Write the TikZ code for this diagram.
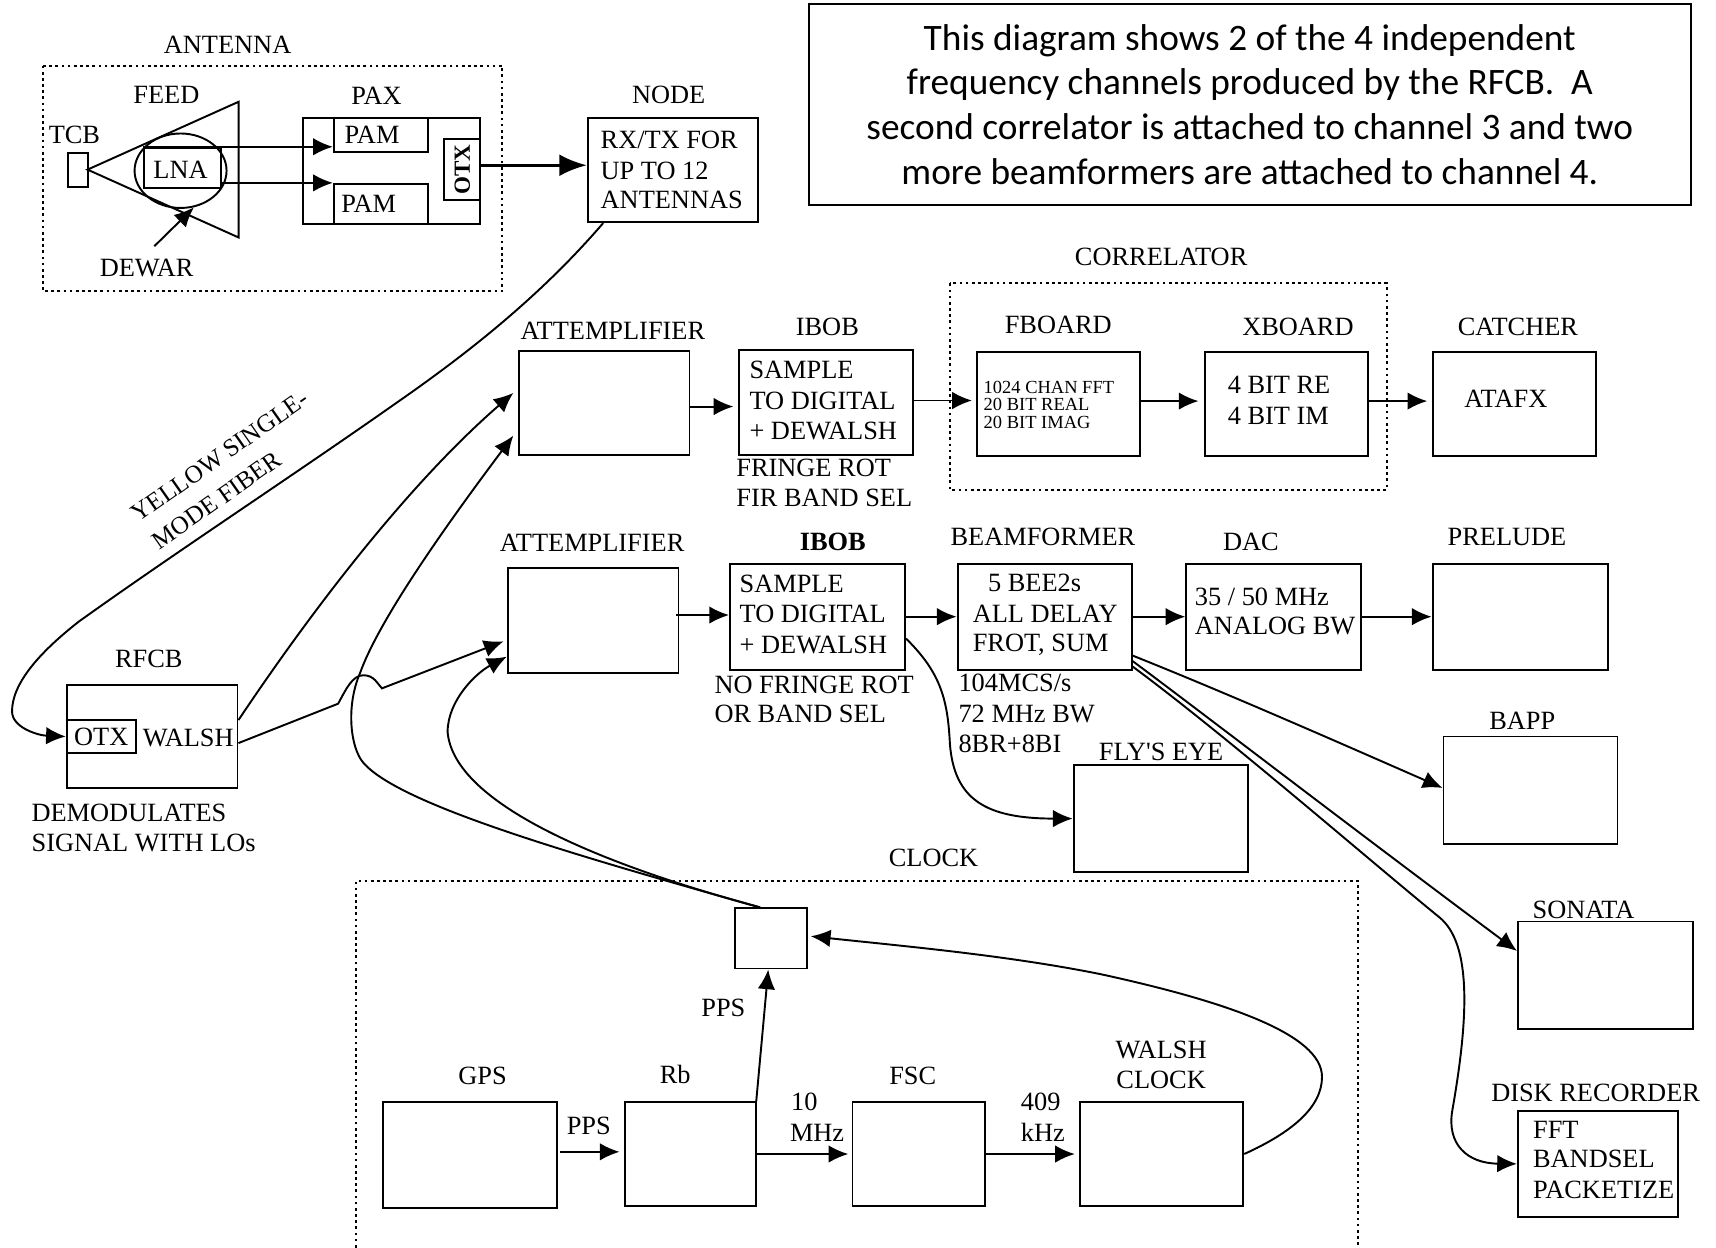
\documentclass[tikz,border=0pt]{standalone}
\usepackage{fontspec}
\setmainfont{Liberation Serif}
\newfontfamily\notefont{Carlito}
\usetikzlibrary{arrows.meta, shapes.geometric}

\begin{document}
\begin{tikzpicture}[
    x=0.01cm, y=-0.01cm,
    line width=0.5pt,
    every node/.style={font=\fontsize{6.85}{7.8}\selectfont, inner sep=0pt},
    blk/.style 2 args={draw, minimum width=#1*0.01cm, minimum height=#2*0.01cm},
    txt/.style={anchor=west},
    small/.style={anchor=west, font=\fontsize{4.8}{5}\selectfont},
    fiber/.style={rotate=35, font=\fontsize{6.5}{7}\selectfont},
    arr/.style={-{Latex[length=1.8mm, width=1.6mm]}},
    bigarr/.style={-{Latex[length=2.5mm, width=2mm]}, line width=0.8pt},
    box/.style={dash pattern=on 0.7pt off 0.9pt, line width=0.55pt}
]
\useasboundingbox (0,0) rectangle (1568,1140);

% Note in the corner
\node[blk={806}{183}, align=center, font=\notefont\fontsize{9.7}{11.65}\selectfont] (note) at (1142,95.5)
    {This diagram shows 2 of the 4 independent\\
     frequency channels produced by the RFCB.\ \ A\\
     second correlator is attached to channel 3 and two\\
     more beamformers are attached to channel 4.};

% Antenna
\draw[box] (39,60) rectangle (459,266);
\node (antennalbl) at (208,41) {ANTENNA};
\node (feedlbl) at (152,87) {FEED};
\node (tcblbl) at (68,123) {TCB};
\node (paxlbl) at (344,88) {PAX};
\node (dewarlbl) at (134,245) {DEWAR};
\node[blk={18}{31}] (tcb) at (71,155.5) {};
\draw (80,155) -- (218,93) -- (218,217) -- cycle; % Feed horn
\node[blk={70}{37}] (lna) at (167,153.5) {};
\node (lnatxt) at (165,155) {LNA};
\node[draw, ellipse, minimum width=0.84cm, minimum height=0.68cm] (dewar) at (165,156) {};
\node[blk={162}{97}] (pax) at (358,156.5) {};
\node[blk={86}{31}] (pam1) at (348,123.5) {};
\node (pam1txt) at (340,123) {PAM};
\node[blk={86}{37}] (pam2) at (348,186.5) {};
\node (pam2txt) at (337,186) {PAM};
\node[blk={33}{56}] (otx1) at (422.5,155) {\rotatebox{90}{\fontsize{6}{7}\selectfont\bfseries OTX}};
\draw[arr] (lna.north west) -- (lna.north west -| pam1.west);
\draw[arr] (lna.east |- pam2.north west) -- (pam2.north west);
\coordinate (dewartail) at (141,225);
\draw[arr] (dewartail) -- (dewar.-70);

% Node
\node (nodelbl) at (611,87) {NODE};
\node[blk={156}{95}] (nodebox) at (615,155.5) {};
\node[txt] (nodetxt1) at (548,128) {RX/TX FOR};
\node[txt] (nodetxt2) at (548,156) {UP TO 12};
\node[txt] (nodetxt3) at (548,183) {ANTENNAS};
\draw[bigarr] ([yshift=0.04cm]otx1.east) -- ([yshift=0.04cm]otx1.east -| nodebox.west);

% Fiber
\node[fiber] (fiberlbl1) at (201,417) {YELLOW SINGLE-};
\node[fiber] (fiberlbl2) at (198,457) {MODE FIBER};

% RFCB
\node (rfcblbl) at (136,602) {RFCB};
\node[blk={156}{94}] (rfcb) at (139,673) {};
\node[blk={63}{30}] (otx2) at (92.5,673) {OTX};
\node (walshlbl) at (172,674) {WALSH};
\node[txt] (demod1) at (28,743) {DEMODULATES};
\node[txt] (demod2) at (28,770) {SIGNAL WITH LOs};
\draw[arr] ([xshift=0.15cm]nodebox.south west)
    .. controls (490,275) and (420,328) .. (361,369)
    .. controls (270,433) and (160,505) .. (72,568)
    .. controls (35,597) and (11,625) .. (11,650)
    .. controls (11,665) and (35,672) .. (otx2.west);

% Correlator row
\node (att1lbl) at (560,302) {ATTEMPLIFIER};
\node[blk={156}{95}] (att1) at (552,368.5) {};
\node (ibob1lbl) at (756,299) {IBOB};
\node[blk={159}{96}] (ibob1) at (754.5,368) {};
\node[txt] (ibob1txt1) at (684,338) {SAMPLE};
\node[txt] (ibob1txt2) at (684,366) {TO DIGITAL};
\node[txt] (ibob1txt3) at (684,394) {+ DEWALSH};
\node[txt] (fringe1) at (672,428) {FRINGE ROT};
\node[txt] (fringe2) at (672,455) {FIR BAND SEL};
\node (corrlbl) at (1061,235) {CORRELATOR};
\draw[box] (868,259) rectangle (1267,448);
\node (fboardlbl) at (967,297) {FBOARD};
\node[blk={149}{95}] (fboard) at (967.5,369.5) {};
\node[small] (fboardtxt1) at (898,354) {1024 CHAN FFT};
\node[small] (fboardtxt2) at (898,370) {20 BIT REAL};
\node[small] (fboardtxt3) at (898,386) {20 BIT IMAG};
\node (xboardlbl) at (1186,299) {XBOARD};
\node[blk={149}{95}] (xboard) at (1175.5,369.5) {};
\node[txt] (xboardtxt1) at (1121,352) {4 BIT RE};
\node[txt] (xboardtxt2) at (1121,380) {4 BIT IM};
\node (catcherlbl) at (1387,299) {CATCHER};
\node[blk={149}{95}] (catcher) at (1383.5,369.5) {};
\node (atafx) at (1376,364) {ATAFX};
\draw[arr] ([yshift=-0.03cm]att1.east) -- ([xshift=-0.04cm,yshift=-0.03cm]att1.east -| ibob1.west);
\draw[arr] ([yshift=0.02cm]ibob1.east) -- ([xshift=-0.04cm,yshift=0.02cm]ibob1.east -| fboard.west);
\draw[arr] ([yshift=0.03cm]fboard.east) -- ([xshift=-0.05cm,yshift=0.03cm]fboard.east -| xboard.west);
\draw[arr] ([yshift=0.03cm]xboard.east) -- ([xshift=-0.04cm,yshift=0.03cm]xboard.east -| catcher.west);

% Beamformer row
\node (att2lbl) at (541,496) {ATTEMPLIFIER};
\node[blk={156}{96}] (att2) at (542,567) {};
\node[font=\fontsize{6.85}{7.8}\selectfont\bfseries] (ibob2lbl) at (761,495) {IBOB};
\node[blk={160}{97}] (ibob2) at (747,563.5) {};
\node[txt] (ibob2txt1) at (675,534) {SAMPLE};
\node[txt] (ibob2txt2) at (675,561) {TO DIGITAL};
\node[txt] (ibob2txt3) at (675,589) {+ DEWALSH};
\node[txt] (nofringe1) at (652,626) {NO FRINGE ROT};
\node[txt] (nofringe2) at (652,652) {OR BAND SEL};
\node (beamlbl) at (953,491) {BEAMFORMER};
\node[blk={159}{97}] (beam) at (954.5,563.5) {};
\node[txt] (beamtxt1) at (902,533) {5 BEE2s};
\node[txt] (beamtxt2) at (888,561) {ALL DELAY};
\node[txt] (beamtxt3) at (888,589) {FROT, SUM};
\node[txt] (rate1) at (875,624) {104MCS/s};
\node[txt] (rate2) at (875,652) {72 MHz BW};
\node[txt] (rate3) at (875,680) {8BR+8BI};
\node (daclbl) at (1143,495) {DAC};
\node[blk={160}{97}] (dac) at (1164,563.5) {};
\node[txt] (dactxt1) at (1091,545) {35 / 50 MHz};
\node[txt] (dactxt2) at (1091,572) {ANALOG BW};
\node (preludelbl) at (1377,491) {PRELUDE};
\node[blk={160}{97}] (prelude) at (1389,563.5) {};
\node (bapplbl) at (1391,659) {BAPP};
\node[blk={159}{98}] (bapp) at (1398.5,722) {};
\node (flyeyelbl) at (1061,687) {FLY\textquotesingle S EYE};
\node[blk={159}{98}] (flyeye) at (1060.5,748) {};
\node (sonatalbl) at (1447,831) {SONATA};
\node[blk={160}{98}] (sonata) at (1467,891) {};
\node (disklbl) at (1458,999) {DISK RECORDER};
\node[blk={146}{97}] (disk) at (1460,1063.5) {};
\node[txt] (disktxt1) at (1400,1032) {FFT};
\node[txt] (disktxt2) at (1400,1059) {BANDSEL};
\node[txt] (disktxt3) at (1400,1087) {PACKETIZE};
\draw[arr] ([xshift=-0.03cm,yshift=0.05cm]att2.east) -- ([yshift=0.05cm]att2.east -| ibob2.west);
\draw[arr] (ibob2.east) -- (beam.west);
\draw[arr] (beam.east) -- (dac.west);
\draw[arr] (dac.east) -- (prelude.west);
\draw[arr] ([yshift=-0.2cm]ibob2.east)
    .. controls (860,615) and (866,640) .. (868,680)
    .. controls (872,730) and (900,748) .. (flyeye.west);
\draw[arr] ([yshift=-0.355cm]beam.east) .. controls (1120,633) and (1220,677) .. ([yshift=0.02cm]bapp.west);
\draw[arr] ([yshift=-0.405cm]beam.east) .. controls (1110,660) and (1220,745) .. ([yshift=0.22cm]sonata.west);
\draw[arr] ([yshift=-0.455cm]beam.east)
    .. controls (1120,672) and (1250,785) .. (1315,838)
    .. controls (1345,862) and (1342,930) .. (1327,1015)
    .. controls (1322,1045) and (1340,1063) .. (disk.west);

% Signals from the RFCB
\draw[arr] ([yshift=0.15cm]rfcb.east) .. controls (280,565) and (370,445) .. ([xshift=-0.04cm,yshift=0.095cm]att1.west);
\draw[arr] ([yshift=-0.06cm]rfcb.east) -- (309,643)
    .. controls (316,630) and (322,617) .. (332,617)
    .. controls (342,617) and (345,625) .. (349,629) -- ([xshift=-0.03cm,yshift=-0.19cm]att2.west);

% Clock
\node (clocklbl) at (853,784) {CLOCK};
\draw[box] (325,1140) -- (325,805) -- (1241,805) -- (1241,1140);
\node[blk={65}{55}] (clk) at (704.5,857.5) {};
\node (gpslbl) at (441,983) {GPS};
\node[blk={159}{97}] (gps) at (429.5,1055.5) {};
\node (rblbl) at (617,982) {Rb};
\node[blk={120}{95}] (rb) at (631,1054.5) {};
\node (fsclbl) at (834,983) {FSC};
\node[blk={121}{95}] (fsc) at (839.5,1054.5) {};
\node (wclklbl1) at (1061,959) {WALSH};
\node (wclklbl2) at (1061,987) {CLOCK};
\node[blk={149}{95}] (wclk) at (1061.5,1054.5) {};
\node (ppslbl1) at (538,1029) {PPS};
\node (ppslbl2) at (661,921) {PPS};
\node[txt] (tenlbl) at (722,1007) {10};
\node[txt] (mhzlbl) at (721,1035) {MHz};
\node[txt] (fourlbl) at (932,1007) {409};
\node[txt] (khzlbl) at (932,1035) {kHz};
\draw[arr] ([xshift=0.02cm,yshift=0.03cm]gps.east) -- ([xshift=-0.04cm,yshift=0.03cm]gps.east -| rb.west);
\draw[arr] (rb.east) -- ([xshift=-0.03cm]rb.east -| fsc.west);
\draw[arr] (fsc.east) -- ([xshift=-0.04cm]fsc.east -| wclk.west);
\draw[arr] ([xshift=0.6cm]rb.north) -- ([xshift=-0.025cm]clk.south);
\draw[arr] (wclk.east) .. controls (1180,1035) and (1208,1012) .. (1208,984)
    .. controls (1208,945) and (1120,915) .. (1005,890)
    .. controls (920,873) and (830,865) .. ([xshift=0.03cm,yshift=0.02cm]clk.east);
\draw[arr] ([xshift=-0.1cm]clk.north) .. controls (520,780) and (365,735) .. (332,697)
    .. controls (320,683) and (316,645) .. (329,615)
    .. controls (345,570) and (400,490) .. ([xshift=-0.04cm,yshift=-0.295cm]att1.west);
\draw[arr] ([xshift=-0.1cm]clk.north) .. controls (550,790) and (415,735) .. (409,669)
    .. controls (409,640) and (435,615) .. ([yshift=-0.33cm]att2.west);
\end{tikzpicture}
\end{document}
